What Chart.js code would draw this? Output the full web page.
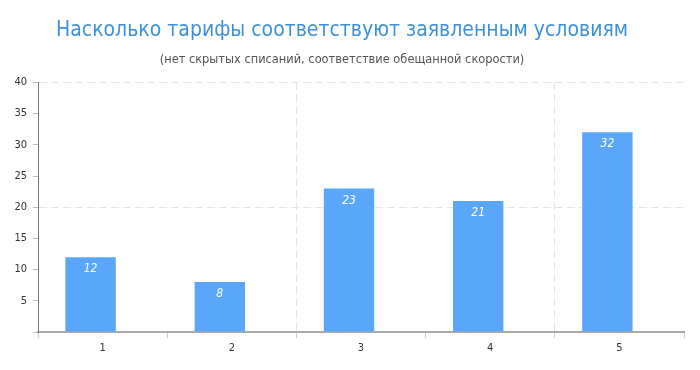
<!DOCTYPE html>
<html>
<head>
<meta charset="utf-8">
<script src="https://cdn.jsdelivr.net/npm/chart.js@4"></script>
<style>
  html, body { margin: 0; padding: 0; background: #fff; }
  #wrap { width: 700px; height: 370px; }
</style>
</head>
<body>
<div id="wrap"><canvas id="tariffChart"></canvas></div>
<script>
// data
const categories = ['1', '2', '3', '4', '5'];
const scores = [12, 8, 23, 21, 32];
const yTicks = [5, 10, 15, 20, 25, 30, 35, 40];
const yGridValues = [20, 40];   // only these get the dashed line
const xGridIndexes = [2, 4];

const barShift = -12; // bars sit a bit left of their labels in the original
const narrow = '"Liberation Sans Narrow", "DejaVu Sans Condensed", sans-serif';

const barLabels = {
    id: 'barLabels',
    beforeDatasetsDraw(chart) {
        chart.ctx.save();
        chart.ctx.translate(barShift, 0);
    },
    afterDatasetsDraw(chart) {
        const ctx = chart.ctx;
        const meta = chart.getDatasetMeta(0);
        ctx.font = 'italic 12px ' + narrow;
        ctx.fillStyle = '#fff';
        ctx.textAlign = 'center';
        ctx.textBaseline = 'middle';
        meta.data.forEach((bar, i) => {
            ctx.fillText(scores[i], bar.x, bar.y + 12);
        });
        ctx.restore();
    }
};

const ctx = document.getElementById('tariffChart').getContext('2d');
new Chart(ctx, {
    type: 'bar',
    data: {
        labels: categories,
        datasets: [{
            data: scores,
            backgroundColor: '#5aa7fa',
            borderWidth: 0,
            categoryPercentage: 1,
            barPercentage: 0.39
        }]
    },
    options: {
        responsive: true,
        maintainAspectRatio: false,
        animation: false,
        layout: { padding: { left: 0, right: 16, top: 14, bottom: 0 } },
        plugins: {
            legend: { display: false },
            tooltip: { enabled: false },
            title: {
                display: true,
                text: 'Насколько тарифы соответствуют заявленным условиям',
                color: '#3b91db',
                font: { family: narrow, size: 21, weight: 'normal' },
                padding: { top: 4, bottom: 9 }
            },
            subtitle: {
                display: true,
                text: '(нет скрытых списаний, соответствие обещанной скорости)',
                color: '#555',
                font: { family: narrow, size: 12.7 },
                padding: { top: 0, bottom: 15 }
            }
        },
        scales: {
            x: {
                offset: true,
                grid: {
                    offset: true,
                    color: c => xGridIndexes.includes(c.index) ? '#e4e4e4' : 'rgba(0,0,0,0)',
                    tickColor: '#ccc',
                    tickLength: 6
                },
                border: { color: '#aaa', width: 2, dash: [8, 4] },
                ticks: { color: '#333', font: { size: 11, family: narrow }, padding: 4 },
                afterFit: s => { s.height = 38; }
            },
            y: {
                min: 0,
                max: 40,
                afterBuildTicks: s => { s.ticks = [0].concat(yTicks).map(v => ({ value: v })); },
                grid: {
                    color: c => yGridValues.includes(c.tick.value) ? '#e4e4e4' : 'rgba(0,0,0,0)',
                    tickColor: '#bbb',
                    tickLength: 5
                },
                border: { color: '#777', width: 1, dash: [8, 4] },
                ticks: {
                    color: '#333',
                    font: { size: 11, family: narrow },
                    padding: 6,
                    callback: v => v === 0 ? '' : v
                },
                afterFit: s => { s.width = 38; }
            }
        }
    },
    plugins: [barLabels]
});
</script>
</body>
</html>
